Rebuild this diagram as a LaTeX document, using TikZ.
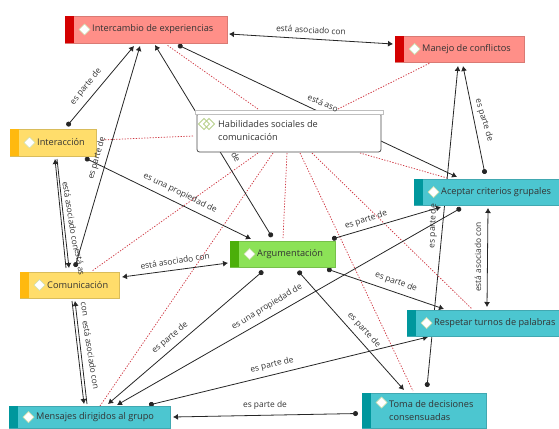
\documentclass[tikz,border=0pt]{standalone}
\usepackage{fontspec}
\setmainfont{Open Sans}
\usetikzlibrary{arrows.meta,calc}
\pgfdeclarelayer{under}
\pgfsetlayers{under,main}
\definecolor{redbar}{HTML}{D40000}
\definecolor{redfill}{HTML}{FF8F88}
\definecolor{yelbar}{HTML}{FFB90F}
\definecolor{yelfill}{HTML}{FFDD6B}
\definecolor{grnbar}{HTML}{4CAF0A}
\definecolor{grnfill}{HTML}{8CE257}
\definecolor{tealbar}{HTML}{00979D}
\definecolor{tealfill}{HTML}{4CC6D0}
\definecolor{dotred}{HTML}{CF3A44}
\definecolor{lab}{HTML}{333333}
\definecolor{diam}{HTML}{B8D08C}
\tikzset{
 x=1pt,y=-1pt,
 conceptbox/.style={line width=.5pt,inner sep=0,outer sep=0,anchor=north west},
 conn/.style={draw=black!85,line width=.8pt},
 dotline/.style={draw=dotred,line width=.75pt,dash pattern=on 1.3pt off 1.5pt},
 lbl/.style={font=\fontsize{8.4}{10}\selectfont,text=lab,inner sep=0},
 ttl/.style={font=\fontsize{9.2}{13}\selectfont,text=black!80,anchor=west,align=left,inner sep=0},
 tipA/.style={-{Latex[length=5pt,width=6pt]}},
 tipB/.style={{Latex[length=5pt,width=6pt]}-{Latex[length=5pt,width=6pt]}},
 tipC/.style={{Circle[length=5pt,width=5pt]}-{Latex[length=5pt,width=6pt]}},
}
% name, x1, y1, x2, y2, fill, bar, text, diamond y offset
\newcommand{\concept}[9]{%
 \node[conceptbox,fill=#6,draw=#6!85!black,minimum width={#4-#2},minimum height={#5-#3}] (#1) at (#2,#3) {};
 \fill[#7] (#1.north west) rectangle ($(#1.south west)+(9,0)$);
 \coordinate (#1d) at ($(#1.west)+(19.5,#9)$);
 \draw[fill=white,draw=diam!70!white,line width=.7pt] ($(#1d)+(0,-5.5)$) -- ($(#1d)+(5.5,0)$) -- ($(#1d)+(0,5.5)$) -- ($(#1d)+(-5.5,0)$) -- cycle;
 \node[ttl] (#1t) at ($(#1.west)+(27,0)$) {#8};
}
\begin{document}
\begin{tikzpicture}
\useasboundingbox (0,0) rectangle (559,428);
% concepts
\concept{ie}{65}{16}{227}{43}{redfill}{redbar}{Intercambio de experiencias}{0}
\concept{mc}{395}{36}{524}{62}{redfill}{redbar}{Manejo de conflictos}{0}
\concept{in}{10}{129}{96}{156}{yelfill}{yelbar}{Interacción}{0}
\concept{co}{20}{272}{119}{298}{yelfill}{yelbar}{Comunicación}{0}
\concept{ar}{230}{241}{335}{267}{grnfill}{grnbar}{Argumentación}{0}
\concept{ac}{414}{179}{559}{205}{tealfill}{tealbar}{Aceptar criterios grupales}{0}
\concept{rt}{407}{310}{559}{336}{tealfill}{tealbar}{Respetar turnos de palabras}{0}
\concept{md}{9}{406}{170}{428}{tealfill}{tealbar}{Mensajes dirigidos al grupo}{0}
\concept{td}{362}{393}{486}{428}{tealfill}{tealbar}{Toma de decisiones\\consensuadas}{-8}
% central
\node[conceptbox,fill=white,draw=black!70,line width=.8pt,rounded corners=2.5pt,minimum width=184,minimum height=39] (h) at (197,113) {};
\fill[white,draw=black!25,line width=.5pt] (195,110.5) rectangle (383,114);
\draw[draw=diam,line width=.9pt] (204,118.5) -- (209.5,124) -- (204,129.5) -- (198.5,124) -- cycle;
\draw[draw=diam,line width=.9pt] (209,118.5) -- (214.5,124) -- (209,129.5) -- (203.5,124) -- cycle;
\node[ttl] (ht) at (218,130.5) {Habilidades sociales de\\comunicación};
% connectors, beneath the boxes
\begin{pgfonlayer}{under}
\draw[dotline] ($(h.north west)+(61,-4)$) -- ($(ie.south west)+(102,2)$);
\draw[dotline] ($(h.north west)+(141,-4)$) -- ($(mc.south west)+(35,1)$);
\draw[dotline] ($(h.west)+(-4,3.5)$) -- ($(in.east)+(4,-2.5)$);
\draw[dotline] ($(h.south west)+(61,1)$) -- ($(co.north west)+(72,-1)$);
\draw[dotline] ($(h.south west)+(76,1)$) -- ($(md.north west)+(91,0)$);
\draw[dotline] ($(h.south west)+(90,1)$) -- ($(ar.north west)+(53,-3)$);
\draw[dotline] ($(h.south west)+(103,1)$) -- ($(td.north west)+(51,-2)$);
\draw[dotline] ($(h.south west)+(115,1)$) -- ($(rt.north west)+(65,-1)$);
\draw[dotline] ($(h.south west)+(163,1)$) -- ($(ac.north west)+(33,-1)$);
%
\draw[conn,tipC] ($(in.north west)+(57,-3)$) -- ($(ie.south west)+(69,3)$);
\draw[conn,tipC] ($(co.north west)+(55,-5)$) -- ($(ie.south west)+(75,3)$);
\draw[conn,tipC] ($(ar.north west)+(42,-4)$) -- ($(ie.south west)+(90,2)$);
\draw[conn,tipC] ($(ie.south west)+(113,2)$) -- ($(ac.north west)+(43,-2)$);
\draw[conn,tipB] ($(ie.south east)+(2,-9)$) -- ($(mc.south west)+(-2,-18)$);
\draw[conn,tipC] ($(in.south west)+(75,2)$) -- ($(ar.north west)+(21,-2)$);
\draw[conn,tipA] ($(in.south west)+(47,3)$) -- ($(co.north west)+(49,-4)$);
\draw[conn,tipA] ($(co.north west)+(46,-4)$) -- ($(in.south west)+(45,3)$);
\draw[conn,tipB] ($(co.east)+(3,-8)$) -- ($(ar.south west)+(-2,-4)$);
\draw[conn,tipA] ($(co.south west)+(52,3)$) -- ($(md.north west)+(75,-2)$);
\draw[conn,tipA] ($(md.north west)+(78,-2)$) -- ($(co.south west)+(55,3)$);
\draw[conn,tipC] ($(ar.south west)+(33,4)$) -- ($(md.north west)+(99,-2)$);
\draw[conn,tipC] ($(ac.south west)+(47,3)$) -- ($(md.north west)+(108,-1)$);
\draw[conn,tipC] ($(md.north west)+(140,-1)$) -- ($(rt.south west)+(21,1)$);
\draw[conn,tipC] ($(td.west)+(-4,3)$) -- ($(md.east)+(3,0)$);
\draw[conn,tipC] ($(ar.south west)+(68,4)$) -- ($(td.north west)+(42,-3)$);
\draw[conn,tipC] ($(ar.south west)+(97,2)$) -- ($(rt.north west)+(37,-1)$);
\draw[conn,tipC] ($(ar.north west)+(102,-2)$) -- ($(ac.south west)+(27,2)$);
\draw[conn,tipC] ($(ac.north west)+(71,-5)$) -- ($(mc.south west)+(68,4)$);
\draw[conn,tipC] ($(td.north west)+(65,-6)$) -- ($(mc.south west)+(63,4)$);
\draw[conn,tipB] ($(ac.south west)+(74,3)$) -- ($(rt.north west)+(80,-3)$);
\end{pgfonlayer}
% labels
\node[lbl,rotate=51] (l1) at (86,87) {es parte de};
\node[lbl,rotate=74] (l2) at (97,158) {es parte de};
\node[lbl,rotate=-3] (l3) at (311,30) {está asociado con};
\node[lbl,rotate=-24] (l4) at (323,103) {está aso};
\node[lbl,rotate=-73] (l5) at (484,120) {es parte de};
\node[lbl,rotate=-26] (l6) at (180,193) {es una propiedad de};
\node[lbl,rotate=-60] (l7) at (236,157) {de};
\node[lbl,rotate=-81] (l8) at (71,216) {está asociado con};
\node[lbl,rotate=-81] (l9) at (80,262) {está as};
\node[lbl,rotate=9] (l10) at (175,261) {está asociado con};
\node[lbl,rotate=-81] (l11) at (84,309) {con};
\node[lbl,rotate=-81] (l12) at (91,355) {está asociado con};
\node[lbl,rotate=40] (l13) at (170,338) {es parte de};
\node[lbl,rotate=31] (l14) at (267,307) {es una propiedad de};
\node[lbl,rotate=13] (l15) at (272,365) {es parte de};
\node[lbl] (l16) at (265,405) {es parte de};
\node[lbl,rotate=-47] (l17) at (364,330) {es parte de};
\node[lbl,rotate=-20] (l18) at (396,282) {es parte de};
\node[lbl,rotate=18] (l19) at (366,220) {es parte de};
\node[lbl,rotate=88] (l20) at (433,226) {es parte de};
\node[lbl,rotate=90] (l21) at (478,257) {está asociado con};
\end{tikzpicture}
\end{document}
